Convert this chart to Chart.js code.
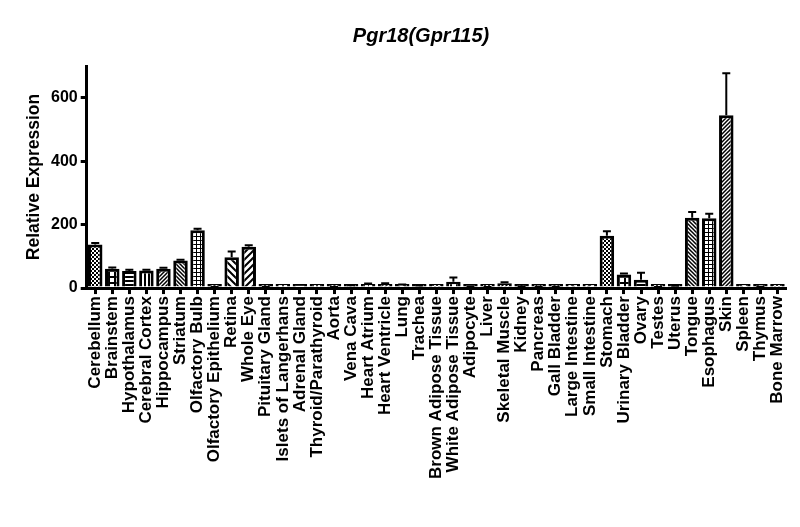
<!DOCTYPE html>
<html>
<head>
<meta charset="utf-8">
<script src="https://cdn.jsdelivr.net/npm/chart.js@4.4.1/dist/chart.umd.min.js"></script>
<style>
  html, body { margin: 0; padding: 0; background: #fff; }
  #wrap { width: 800px; height: 527px; position: relative; }
</style>
</head>
<body>
<div id="wrap"><canvas id="barchart"></canvas></div>
<script>
// tissues on the x axis
const tissues = [
  "Cerebellum", "Brainstem", "Hypothalamus", "Cerebral Cortex", "Hippocampus",
  "Striatum", "Olfactory Bulb", "Olfactory Epithelium", "Retina", "Whole Eye",
  "Pituitary Gland", "Islets of Langerhans", "Adrenal Gland", "Thyroid/Parathyroid", "Aorta",
  "Vena Cava", "Heart Atrium", "Heart Ventricle", "Lung", "Trachea",
  "Brown Adipose Tissue", "White Adipose Tissue", "Adipocyte", "Liver", "Skeletal Muscle",
  "Kidney", "Pancreas", "Gall Bladder", "Large Intestine", "Small Intestine",
  "Stomach", "Urinary Bladder", "Ovary", "Testes", "Uterus",
  "Tongue", "Esophagus", "Skin", "Spleen", "Thymus", "Bone Marrow"
];

// mean relative expression
const expression = [
  137, 61, 54, 55, 61,
  87, 182, 2, 97, 130,
  3, 0.5, 0.5, 1, 2,
  7, 12, 13, 9, 7,
  1, 20, 2, 2, 15,
  5, 4, 3, 0.5, 1,
  165, 43, 26, 2, 6,
  222, 220, 545, 0.5, 3, 0.5
];

// upper error (SEM)
const errorUp = [
  5, 4, 4, 3, 3,
  2, 5, 1, 18, 5,
  1, 0, 0, 0, 1,
  2, 2, 2, 2, 1,
  0, 13, 1, 1, 3,
  1, 1, 1, 0, 0,
  14, 3, 22, 1, 1,
  18, 14, 132, 0, 1, 0
];

const yTicks = [0, 200, 400, 600];
const yMax = 700;

// fill patterns, cycling every 10 bars
const patternCycle = [
  "checker", "bigGrid", "hLines", "vLines", "fineSlash",
  "fineBack", "grid", "fineSlash", "wideBack", "wideSlash"
];

function makePattern(kind) {
  const c = document.createElement("canvas");
  const s = kind === "wideBack" || kind === "wideSlash" ? 7 : kind === "bigGrid" ? 6 : 4;
  c.width = s; c.height = s;
  const g = c.getContext("2d");
  g.fillStyle = "#fff";
  g.fillRect(0, 0, s, s);
  g.fillStyle = "#000";
  g.strokeStyle = "#000";
  if (kind === "checker") {
    g.fillRect(0, 0, 2, 2);
    g.fillRect(2, 2, 2, 2);
  } else if (kind === "bigGrid") {
    g.fillRect(0, 0, s, 2);
    g.fillRect(0, 0, 2, s);
  } else if (kind === "hLines") {
    g.fillRect(0, 0, s, 2);
  } else if (kind === "vLines") {
    g.fillRect(0, 0, 2, s);
  } else if (kind === "grid") {
    g.fillRect(0, 0, s, 1);
    g.fillRect(0, 0, 1, s);
  } else {
    const back = kind === "fineBack" || kind === "wideBack";
    g.lineWidth = kind.startsWith("wide") ? 2 : 1.5;
    g.beginPath();
    if (back) {
      g.moveTo(-1, -1); g.lineTo(s + 1, s + 1);
      g.moveTo(-1, s - 1); g.lineTo(1, s + 1);
      g.moveTo(s - 1, -1); g.lineTo(s + 1, 1);
    } else {
      g.moveTo(-1, s + 1); g.lineTo(s + 1, -1);
      g.moveTo(-1, 1); g.lineTo(1, -1);
      g.moveTo(s - 1, s + 1); g.lineTo(s + 1, s - 1);
    }
    g.stroke();
  }
  return g.createPattern(c, "repeat");
}

// draws the upper error whisker with a cap
const errorBars = {
  id: "errorBars",
  afterDatasetsDraw(chart) {
    const ctx = chart.ctx;
    const meta = chart.getDatasetMeta(0);
    const y = chart.scales.y;
    ctx.save();
    ctx.strokeStyle = "#000";
    ctx.lineWidth = 2;
    meta.data.forEach((bar, i) => {
      if (!errorUp[i]) return;
      const top = y.getPixelForValue(expression[i] + errorUp[i]);
      const base = y.getPixelForValue(expression[i]);
      ctx.beginPath();
      ctx.moveTo(bar.x, base);
      ctx.lineTo(bar.x, top);
      ctx.moveTo(bar.x - 4, top);
      ctx.lineTo(bar.x + 4, top);
      ctx.stroke();
    });
    ctx.restore();
  }
};

// italic chart title
const chartTitle = {
  id: "chartTitle",
  afterDraw(chart) {
    const ctx = chart.ctx;
    ctx.save();
    ctx.font = "italic bold 20px 'Liberation Sans', Arial, sans-serif";
    ctx.fillStyle = "#000";
    ctx.textAlign = "center";
    ctx.textBaseline = "middle";
    ctx.fillText("Pgr18(Gpr115)", 421, 36);
    ctx.restore();
  }
};

document.addEventListener("DOMContentLoaded", function () {
  const ctx = document.getElementById("barchart").getContext("2d");
  const fills = tissues.map((t, i) => makePattern(patternCycle[i % patternCycle.length]));
  const font = { family: "'Liberation Sans', Arial, sans-serif", weight: "bold" };

  new Chart(ctx, {
    type: "bar",
    data: {
      labels: tissues,
      datasets: [{
        label: "Relative Expression",
        data: expression,
        backgroundColor: fills,
        borderColor: "#000",
        borderWidth: 3,
        borderSkipped: "bottom",
        minBarLength: 4,
        barPercentage: 0.85,
        categoryPercentage: 1.0
      }]
    },
    options: {
      responsive: true,
      maintainAspectRatio: false,
      animation: false,
      layout: { padding: { left: 21, right: 12, top: 66, bottom: 46 } },
      plugins: {
        legend: { display: false },
        tooltip: { enabled: false },
        title: { display: false }
      },
      scales: {
        x: {
          grid: {
            offset: false,
            drawOnChartArea: false,
            drawTicks: true,
            tickLength: 6,
            lineWidth: 3,
            color: "#000"
          },
          border: { display: true, width: 3, color: "#000" },
          ticks: {
            autoSkip: false,
            minRotation: 90,
            maxRotation: 90,
            padding: 2,
            color: "#000",
            font: { ...font, size: 17 }
          }
        },
        y: {
          min: 0,
          max: yMax,
          afterBuildTicks(scale) {
            scale.ticks = yTicks.map((v) => ({ value: v }));
          },
          grid: {
            drawOnChartArea: false,
            drawTicks: true,
            tickLength: 6,
            lineWidth: 3,
            color: "#000"
          },
          border: { display: true, width: 3, color: "#000" },
          ticks: { color: "#000", padding: 3, font: { ...font, size: 16 } },
          title: {
            display: true,
            text: "Relative Expression",
            color: "#000",
            padding: { top: 3, bottom: 3 },
            font: { ...font, size: 17.5 }
          }
        }
      }
    },
    plugins: [errorBars, chartTitle]
  });
});
</script>
</body>
</html>
